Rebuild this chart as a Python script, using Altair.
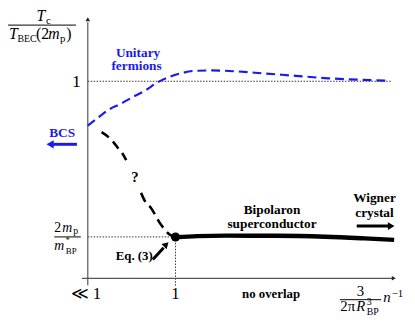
import altair as alt
import pandas as pd

# ---------------- data (schematic curves) ----------------
# x: density axis ("<<1" at 0, "1" at 1); y: Tc / T_BEC(2m_p)
unitary_x = [0.0, 0.124, 0.236, 0.371, 0.494, 0.652, 0.798, 0.933, 1.079, 1.213,
             1.416, 1.697, 2.0, 2.371, 2.742, 3.101, 3.449]
unitary_y = [0.775, 0.8175, 0.855, 0.885, 0.915, 0.9525, 0.995, 1.0225, 1.0425, 1.0525,
             1.055, 1.05, 1.04, 1.0275, 1.015, 1.0075, 1.0025]

guess_upper_x = [0.157, 0.236, 0.292, 0.348, 0.393, 0.438]
guess_upper_y = [0.7415, 0.7165, 0.6915, 0.6585, 0.635, 0.60]
guess_lower_x = [0.607, 0.663, 0.719, 0.775, 0.817, 0.873, 0.933, 1.0]
guess_lower_y = [0.4335, 0.3835, 0.3585, 0.3165, 0.2835, 0.25, 0.2225, 0.21]

bipolaron_x = [1.0, 1.247, 1.584, 2.146, 2.708, 3.157, 3.494]
bipolaron_y = [0.2085, 0.214, 0.2165, 0.216, 0.211, 0.2025, 0.195]

crossover_x = [1.0]
crossover_y = [0.21]          # 2 m_p / m*_BP level

unit_level = 1.0
bp_level = 0.21

# ---------------- layout / style ----------------
SERIF = "'Liberation Serif', 'Times New Roman', 'DejaVu Serif', serif"
BLUE = "#1a1aee"
AXIS = "#555555"
W, H = 405, 314
xs = alt.Scale(domain=[-0.910, -0.910 + W / 89.0], nice=False, zero=False)
ys = alt.Scale(domain=[-0.21, 1.36], nice=False, zero=False)


def X(field="x"):
    return alt.X(f"{field}:Q", scale=xs, axis=None)


def Y(field="y"):
    return alt.Y(f"{field}:Q", scale=ys, axis=None)


def line(xv, yv, **mk):
    df = pd.DataFrame({"x": xv, "y": yv})
    return alt.Chart(df).mark_line(**mk).encode(x=X(), y=Y(), order="x:Q")


def seg(x1, y1, x2, y2, **mk):
    df = pd.DataFrame({"x": [x1], "y": [y1], "x2": [x2], "y2": [y2]})
    return alt.Chart(df).mark_rule(**mk).encode(x=X(), y=Y(), x2="x2:Q", y2="y2:Q")


def head(x, y, shape, size, color, angle=0):
    df = pd.DataFrame({"x": [x], "y": [y]})
    return alt.Chart(df).mark_point(shape=shape, size=size, filled=True, color=color,
                                    opacity=1, strokeWidth=0, angle=angle).encode(x=X(), y=Y())


def txt(x, y, s, size=14, color="black", weight="normal", style="normal",
        align="left", baseline="alphabetic"):
    df = pd.DataFrame({"x": [x], "y": [y], "t": [s]})
    return alt.Chart(df).mark_text(font=SERIF, fontSize=size, color=color, fontWeight=weight,
                                   fontStyle=style, align=align, baseline=baseline).encode(
        x=X(), y=Y(), text="t:N")


layers = []

# dotted guide lines
dot = dict(color="#333333", strokeWidth=1, strokeDash=[1.5, 1.5])
layers.append(seg(0, unit_level, 3.46, unit_level, **dot))
layers.append(seg(0, bp_level, 1.0, bp_level, **dot))
layers.append(seg(1.0, bp_level, 1.0, -0.04, **dot))

# axes
layers.append(seg(-0.067, 0, 3.47, 0, color=AXIS, strokeWidth=1.2))
layers.append(head(3.49, 0, "triangle-right", 22, "#222222"))
layers.append(seg(0, -0.035, 0, 1.30, color=AXIS, strokeWidth=1.2))
layers.append(head(0, 1.315, "triangle-up", 22, "#222222"))

# curves
layers.append(line(unitary_x, unitary_y, color=BLUE, strokeWidth=2.2, strokeDash=[9, 5],
                   interpolate="monotone"))
layers.append(line(guess_upper_x, guess_upper_y, color="black", strokeWidth=2.6,
                   strokeDash=[9, 6], interpolate="monotone"))
layers.append(line(guess_lower_x, guess_lower_y, color="black", strokeWidth=2.6,
                   strokeDash=[10, 6], interpolate="monotone"))
layers.append(line(bipolaron_x, bipolaron_y, color="black", strokeWidth=4.5,
                   interpolate="monotone"))
layers.append(alt.Chart(pd.DataFrame({"x": crossover_x, "y": crossover_y}))
              .mark_circle(size=85, color="black", opacity=1).encode(x=X(), y=Y()))

# arrows
layers.append(seg(-0.124, 0.68, -0.40, 0.68, color=BLUE, strokeWidth=3))
layers.append(head(-0.43, 0.68, "triangle-left", 70, BLUE))
layers.append(seg(3.067, 0.265, 3.43, 0.265, color="black", strokeWidth=3))
layers.append(head(3.46, 0.265, "triangle-right", 60, "black"))
layers.append(seg(0.742, 0.095, 0.865, 0.155, color="black", strokeWidth=3))
layers.append(head(0.895, 0.172, "triangle-up", 55, "black", angle=45))

# bold labels
B = dict(weight="bold", align="center")
layers.append(txt(0.573, 1.125, "Unitary", 13.5, color=BLUE, **B))
layers.append(txt(0.556, 1.055, "fermions", 13.5, color=BLUE, **B))
layers.append(txt(-0.292, 0.715, "BCS", 13.5, color=BLUE, **B))
layers.append(txt(0.539, 0.49, "?", 15, **B))
layers.append(txt(0.530, 0.095, "Eq. (3)", 13, **B))
layers.append(txt(2.101, 0.325, "Bipolaron", 13.5, **B))
layers.append(txt(2.101, 0.255, "superconductor", 13.5, **B))
layers.append(txt(3.27, 0.385, "Wigner", 13.5, **B))
layers.append(txt(3.27, 0.31, "crystal", 13.5, **B))
layers.append(txt(2.09, -0.10, "no overlap", 13, **B))

# tick-like labels
layers.append(txt(-0.022, -0.105, "\u226a 1", 17, align="center"))
layers.append(txt(1.0, -0.105, "1", 17, align="center"))
layers.append(txt(-0.079, 0.97, "1", 18, align="right"))

# y label: T_c / T_BEC(2 m_p)
layers.append(seg(-0.91, 1.285, -0.135, 1.285, color="black", strokeWidth=1))
layers.append(txt(-0.584, 1.305, "T", 16, style="italic"))
layers.append(txt(-0.478, 1.2925, "c", 11))
layers.append(txt(-0.899, 1.215, "T", 16, style="italic"))
layers.append(txt(-0.803, 1.20, "BEC", 10))
layers.append(txt(-0.590, 1.215, "(2", 16))
layers.append(txt(-0.450, 1.215, "m", 16, style="italic"))
layers.append(txt(-0.318, 1.20, "p", 11))
layers.append(txt(-0.245, 1.215, ")", 16))

# 2 m_p / m*_BP
layers.append(seg(-0.382, bp_level, -0.079, bp_level, color="black", strokeWidth=1))
layers.append(txt(-0.382, 0.2325, "2", 14))
layers.append(txt(-0.290, 0.2325, "m", 14, style="italic"))
layers.append(txt(-0.165, 0.2225, "p", 10))
layers.append(txt(-0.382, 0.142, "m", 14, style="italic"))
layers.append(txt(-0.250, 0.180, "*", 8))
layers.append(txt(-0.250, 0.125, "BP", 9))

# 3 / (2 pi R^3_BP) n^-1
layers.append(seg(2.876, -0.1085, 3.345, -0.1085, color="black", strokeWidth=1))
layers.append(txt(3.110, -0.092, "3", 15, align="center"))
layers.append(txt(2.880, -0.168, "2\u03c0", 15))
layers.append(txt(3.062, -0.168, "R", 15, style="italic"))
layers.append(txt(3.182, -0.133, "3", 10))
layers.append(txt(3.182, -0.1855, "BP", 10))
layers.append(txt(3.371, -0.12, "n", 15, style="italic"))
layers.append(txt(3.466, -0.0925, "\u22121", 11))

chart = alt.layer(*layers).properties(
    width=W, height=H, padding=0, autosize=alt.AutoSizeParams(type="none")
).configure_view(stroke=None)

chart.save("out.html", embed_options={"renderer": "svg", "actions": False})
